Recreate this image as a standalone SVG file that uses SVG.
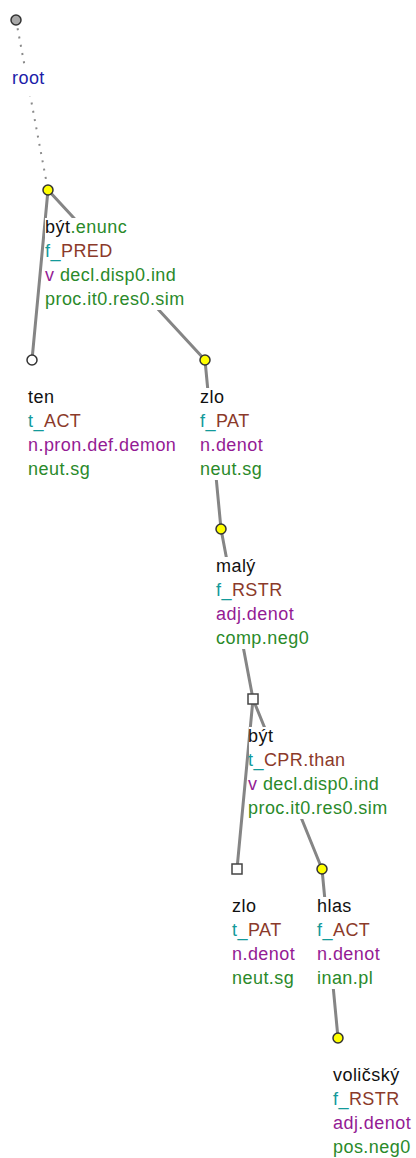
<svg xmlns="http://www.w3.org/2000/svg" width="416" height="1158" viewBox="0 0 416 1158">
<style>
text{font-family:"Liberation Sans",Arial,sans-serif;font-size:18px;letter-spacing:0.45px}
.bg{fill:#fff}
.e{stroke:#858585;stroke-width:3;fill:none;stroke-linecap:round}
.d{stroke:#8a8a8a;stroke-width:2;fill:none;stroke-dasharray:2 6.4}
.k{fill:#111}
.g{fill:#2a8a2a}
.c{fill:#139a9a}
.b{fill:#8b3a2a}
.p{fill:#941b94}
.r{fill:#1c1ca8}
.y{fill:#ffff00;stroke:#333;stroke-width:1.5}
.w{fill:#fff;stroke:#333;stroke-width:1.5}
.gr{fill:#a8a8a8;stroke:#333;stroke-width:1.5}
.sq{fill:#fff;stroke:#444;stroke-width:1.5}
</style>
<g id="connectors">
<path class="d" d="M16,20 L48,190"/>
<path class="e" d="M48,190 L32,360"/>
<path class="e" d="M48,190 L205,360"/>
<path class="e" d="M205,360 L221,529"/>
<path class="e" d="M221,529 L253,699"/>
<path class="e" d="M253,699 L237,869"/>
<path class="e" d="M253,699 L322,869"/>
<path class="e" d="M322,869 L338,1038"/>
</g>
<g id="root">
<rect class="bg" x="10" y="66" width="36" height="30"/>
<circle class="gr" cx="16" cy="20" r="5"/>
<text x="12" y="84" class="r">root</text>
</g>
<g id="byt">
<rect class="bg" x="45" y="218" width="141" height="92"/>
<circle class="y" cx="48" cy="190" r="5"/>
<text x="45" y="233"><tspan class="k">být</tspan><tspan class="g">.enunc</tspan></text>
<text x="45" y="257"><tspan class="c">f_</tspan><tspan class="b">PRED</tspan></text>
<text x="45" y="281"><tspan class="p">v</tspan><tspan class="g"> decl.disp0.ind</tspan></text>
<text x="45" y="305" class="g">proc.it0.res0.sim</text>
</g>
<g id="ten">
<rect class="bg" x="28" y="388" width="151" height="92"/>
<circle class="w" cx="32" cy="360" r="5"/>
<text x="28" y="403" class="k">ten</text>
<text x="28" y="427"><tspan class="c">t_</tspan><tspan class="b">ACT</tspan></text>
<text x="28" y="451" class="p">n.pron.def.demon</text>
<text x="28" y="475" class="g">neut.sg</text>
</g>
<g id="zlo">
<rect class="bg" x="200" y="388" width="66" height="92"/>
<circle class="y" cx="205" cy="360" r="5"/>
<text x="200" y="403" class="k">zlo</text>
<text x="200" y="427"><tspan class="c">f_</tspan><tspan class="b">PAT</tspan></text>
<text x="200" y="451" class="p">n.denot</text>
<text x="200" y="475" class="g">neut.sg</text>
</g>
<g id="maly">
<rect class="bg" x="216" y="557" width="95" height="92"/>
<circle class="y" cx="221" cy="529" r="5"/>
<text x="216" y="572" class="k">malý</text>
<text x="216" y="596"><tspan class="c">f_</tspan><tspan class="b">RSTR</tspan></text>
<text x="216" y="620" class="p">adj.denot</text>
<text x="216" y="644" class="g">comp.neg0</text>
</g>
<g id="byt2">
<rect class="bg" x="249" y="727" width="141" height="92"/>
<rect class="sq" x="248" y="694" width="10" height="10"/>
<text x="248" y="742" class="k">být</text>
<text x="248" y="766"><tspan class="c">t_</tspan><tspan class="b">CPR.than</tspan></text>
<text x="248" y="790"><tspan class="p">v</tspan><tspan class="g"> decl.disp0.ind</tspan></text>
<text x="248" y="814" class="g">proc.it0.res0.sim</text>
</g>
<g id="zlo2">
<rect class="bg" x="232" y="897" width="66" height="92"/>
<rect class="sq" x="232" y="864" width="10" height="10"/>
<text x="232" y="912" class="k">zlo</text>
<text x="232" y="936"><tspan class="c">t_</tspan><tspan class="b">PAT</tspan></text>
<text x="232" y="960" class="p">n.denot</text>
<text x="232" y="984" class="g">neut.sg</text>
</g>
<g id="hlas">
<rect class="bg" x="317" y="897" width="66" height="92"/>
<circle class="y" cx="322" cy="869" r="5"/>
<text x="317" y="912" class="k">hlas</text>
<text x="317" y="936"><tspan class="c">f_</tspan><tspan class="b">ACT</tspan></text>
<text x="317" y="960" class="p">n.denot</text>
<text x="317" y="984" class="g">inan.pl</text>
</g>
<g id="volicsky">
<rect class="bg" x="333" y="1066" width="80" height="92"/>
<circle class="y" cx="338" cy="1038" r="5"/>
<text x="333" y="1081" class="k">voličský</text>
<text x="333" y="1105"><tspan class="c">f_</tspan><tspan class="b">RSTR</tspan></text>
<text x="333" y="1129" class="p">adj.denot</text>
<text x="333" y="1153" class="g">pos.neg0</text>
</g>
</svg>
